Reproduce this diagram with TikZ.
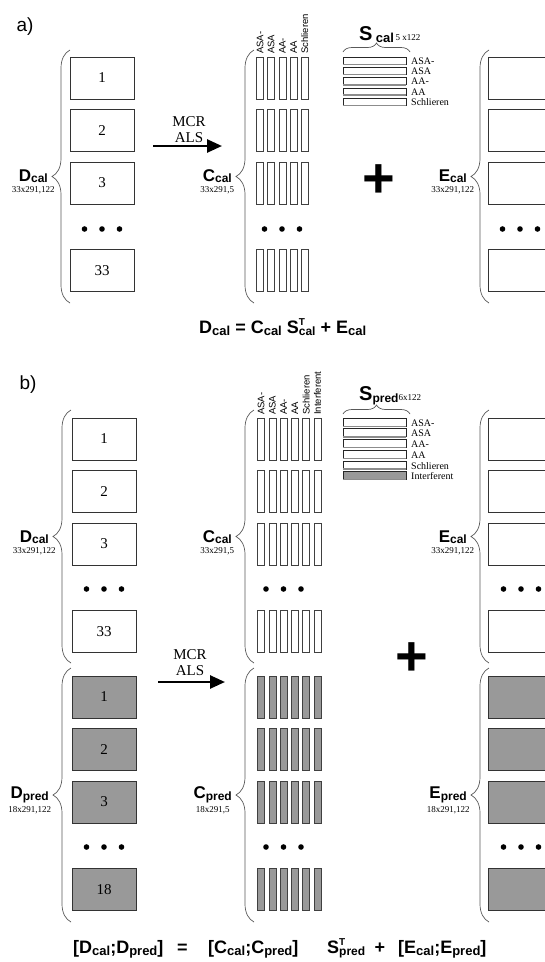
\documentclass[tikz,border=0pt]{standalone}
\usepackage{fontspec}
\setmainfont{Liberation Serif}
\newfontfamily\arialf{Liberation Sans}
\usetikzlibrary{arrows.meta,positioning,decorations.pathreplacing}

\newcommand{\msym}[2]{{\arialf\bfseries\fontsize{17}{17}\selectfont #1\raisebox{-1.5pt}{\fontsize{12}{12}\selectfont #2}}}
\newcommand{\esym}[2]{{\arialf\bfseries\fontsize{18}{18}\selectfont #1\raisebox{-2pt}{\fontsize{13}{13}\selectfont #2}}}
\newcommand{\esymT}[2]{{\arialf\bfseries\fontsize{18}{18}\selectfont #1\rlap{\raisebox{7.5pt}{\fontsize{10}{10}\selectfont T}}\raisebox{-2.5pt}{\fontsize{12}{12}\selectfont #2}}}

\tikzset{
  dbox/.style={draw=black!80,line width=0.8pt,minimum width=64pt,minimum height=42pt,inner sep=0pt,font=\fontsize{15}{15}\selectfont},
  cbar/.style={draw=black!75,line width=0.6pt,minimum width=7pt,minimum height=42pt,inner sep=0pt},
  sbar/.style={draw=black!85,line width=0.5pt,minimum width=63pt,inner sep=0pt},
  sshade/.style={draw=black!45,line width=1.4pt},
  calfill/.style={fill=white},
  predfill/.style={fill=black!40},
  lbrace/.style={decorate,decoration={brace,amplitude=18pt},draw=black!65,line width=0.7pt},
  tbrace/.style={decorate,decoration={brace,amplitude=9pt},draw=black!65,line width=0.7pt},
  grouplabel/.style={inner sep=0pt},
  dimlabel/.style={inner sep=0pt,font=\fontsize{9}{9}\selectfont},
  collabel/.style={inner sep=0pt,rotate=90,anchor=west,font=\arialf\fontsize{9.5}{9.5}\selectfont},
  rowlabel/.style={inner sep=0pt,anchor=west,font=\fontsize{10}{10}\selectfont},
  mcrtext/.style={inner sep=0pt,align=center,anchor=south,font=\fontsize{15}{16}\selectfont},
  mcrarrow/.style={line width=2.6pt,-{Triangle[length=15pt,width=13pt]}},
  plussign/.style={inner sep=0pt,font=\arialf\bfseries\fontsize{56}{56}\selectfont},
  parttitle/.style={inner sep=0pt,font=\arialf\fontsize{19}{19}\selectfont},
  eqtext/.style={inner sep=0pt,font=\arialf\bfseries\fontsize{18}{18}\selectfont}
}

\begin{document}
\begin{tikzpicture}[x=1pt,y=-1pt,>=Latex]
\clip (0,0) rectangle (545,962);

% ---------------- a) calibration ----------------
\node[parttitle] (titlea) at (25,27) {a)};

\foreach \r/\t [count=\k] in {0/1,52.5/2,105/3,192.5/33} {
  \node[dbox,calfill] (da\k) at (102,{78+\r}) {\t};
  \foreach \c in {0,...,4}
    \node[cbar,calfill] (ca\k-\c) at ({260+11.2*\c},{78+\r}) {};
  \node[dbox,calfill] (ea\k) at (520,{78+\r}) {};
}
\foreach \x in {-17.5,0,17.5} {
  \fill (102+\x,229) circle (2.8pt);
  \fill (282+\x,229) circle (2.8pt);
  \fill (520+\x,229) circle (2.8pt);
}

\foreach \c/\t in {0/ASA-,1/ASA,2/AA-,3/AA,4/Schlieren}
  \node[collabel] (cla\c) at ({260+11.2*\c},54) {\t};

% braces and labels
\draw[lbrace] (70,303) -- (70,50);
\draw[lbrace] (254,303) -- (254,50);
\draw[lbrace] (489,303) -- (489,50);
\coordinate (datip) at (52,176);
\coordinate (catip) at (236,176);
\coordinate (eatip) at (471,176);
\node[grouplabel,left=4pt of datip] (dalab) {\msym{D}{cal}};
\node[dimlabel,below=3pt of dalab] (dadim) {33x291,122};
\node[grouplabel,left=4pt of catip] (calab) {\msym{C}{cal}};
\node[dimlabel,below=3pt of calab] (cadim) {33x291,5};
\node[grouplabel,left=4pt of eatip] (ealab) {\msym{E}{cal}};
\node[dimlabel,below=3pt of ealab] (eadim) {33x291,122};

% spectra
\foreach \t [count=\i from 0] in {ASA-,ASA,AA-,AA,Schlieren} {
  \node[sbar,calfill,minimum height=7pt] (sa\i) at (374.5,{60.5+10.3*\i}) {};
  \draw[sshade] (sa\i.south west) -- (sa\i.south east);
  \node[rowlabel] (sla\i) at (411,{61+10.3*\i}) {\t};
}
\draw[tbrace] (343,52) -- (410,52);
\node[inner sep=0pt,anchor=base west] (salab) at (359,40)
  {{\arialf\bfseries\fontsize{20}{20}\selectfont S\,\raisebox{-2pt}{\fontsize{13}{13}\selectfont cal}}\,{\fontsize{9}{9}\selectfont 5 x122}};

% MCR-ALS
\coordinate (arra0) at (153,146);
\coordinate (arra1) at (222,146);
\draw[mcrarrow] (arra0) -- (arra1);
\node[mcrtext] (mcra) at (189,142.5) {MCR\\ALS};

\node[plussign] (plusa) at (379,181) {+};

\node[eqtext,anchor=base west] (eqa) at (199,333)
  {\esym{D}{cal} = \esym{C}{cal} \esymT{S}{cal} + \esym{E}{cal}};

% ---------------- b) calibration + prediction ----------------
\node[parttitle] (titleb) at (28,385) {b)};

\foreach \r/\t [count=\k] in {0/1,52.5/2,105/3,192.5/33} {
  \node[dbox,calfill] (db\k) at (104,{439+\r}) {\t};
  \foreach \c in {0,...,5}
    \node[cbar,calfill] (cb\k-\c) at ({261+11.3*\c},{439+\r}) {};
  \node[dbox,calfill] (eb\k) at (520,{439+\r}) {};
}
\foreach \r/\t [count=\k] in {0/1,52.5/2,105/3,192.5/18} {
  \node[dbox,predfill] (dp\k) at (104,{697+\r}) {\t};
  \foreach \c in {0,...,5}
    \node[cbar,predfill] (cp\k-\c) at ({261+11.3*\c},{697+\r}) {};
  \node[dbox,predfill] (ep\k) at (520,{697+\r}) {};
}
\foreach \x in {-17.5,0,17.5} {
  \fill (104+\x,589) circle (2.8pt);
  \fill (283.5+\x,589) circle (2.8pt);
  \fill (521+\x,589) circle (2.8pt);
  \fill (104+\x,847) circle (2.8pt);
  \fill (283.5+\x,847) circle (2.8pt);
  \fill (521+\x,847) circle (2.8pt);
}

\foreach \c/\t in {0/ASA-,1/ASA,2/AA-,3/AA,4/Schlieren,5/Interferent}
  \node[collabel] (clb\c) at ({261+11.3*\c},415) {\t};

% braces and labels
\draw[lbrace] (71,663) -- (71,410);
\draw[lbrace] (254,663) -- (254,410);
\draw[lbrace] (489,663) -- (489,410);
\draw[lbrace] (71,922) -- (71,668);
\draw[lbrace] (254,922) -- (254,668);
\draw[lbrace] (489,922) -- (489,668);
\coordinate (dbtip) at (53,537);
\coordinate (cbtip) at (236,537);
\coordinate (ebtip) at (471,537);
\coordinate (dptip) at (53,795);
\coordinate (cptip) at (236,795);
\coordinate (eptip) at (471,795);
\node[grouplabel,left=4pt of dbtip] (dblab) {\msym{D}{cal}};
\node[dimlabel,below=3pt of dblab] (dbdim) {33x291,122};
\node[grouplabel,left=4pt of cbtip] (cblab) {\msym{C}{cal}};
\node[dimlabel,below=3pt of cblab] (cbdim) {33x291,5};
\node[grouplabel,left=4pt of ebtip] (eblab) {\msym{E}{cal}};
\node[dimlabel,below=3pt of eblab] (ebdim) {33x291,122};
\node[grouplabel,left=4pt of dptip] (dplab) {\msym{D}{pred}};
\node[dimlabel,below=3pt of dplab] (dpdim) {18x291,122};
\node[grouplabel,left=4pt of cptip] (cplab) {\msym{C}{pred}};
\node[dimlabel,below=3pt of cplab] (cpdim) {18x291,5};
\node[grouplabel,left=4pt of eptip] (eplab) {\msym{E}{pred}};
\node[dimlabel,below=3pt of eplab] (epdim) {18x291,122};

% spectra
\foreach \t/\f [count=\i from 0] in {ASA-/calfill,ASA/calfill,AA-/calfill,AA/calfill,Schlieren/calfill,Interferent/predfill} {
  \node[sbar,\f,minimum height=8pt] (sb\i) at (374.5,{422+10.7*\i}) {};
  \draw[sshade] (sb\i.south west) -- (sb\i.south east);
  \node[rowlabel] (slb\i) at (411,{423+10.7*\i}) {\t};
}
\draw[tbrace] (343,414) -- (410,414);
\node[inner sep=0pt,anchor=base west] (sblab) at (359,400)
  {{\arialf\bfseries\fontsize{20}{20}\selectfont S\raisebox{-2pt}{\fontsize{12}{12}\selectfont pred}}{\fontsize{9}{9}\selectfont 6x122}};

% MCR-ALS
\coordinate (arrb0) at (158,682);
\coordinate (arrb1) at (225,682);
\draw[mcrarrow] (arrb0) -- (arrb1);
\node[mcrtext] (mcrb) at (190,676) {MCR\\ALS};

\node[plussign] (plusb) at (412,659) {+};

\node[eqtext,anchor=base west] (eqb1) at (73,953) {[\esym{D}{cal};\esym{D}{pred}]};
\node[eqtext,anchor=base] (eqb2) at (182.5,953) {=};
\node[eqtext,anchor=base west] (eqb3) at (208,953) {[\esym{C}{cal};\esym{C}{pred}]};
\node[eqtext,anchor=base west] (eqb4) at (327,953) {\esymT{S}{pred}};
\node[eqtext,anchor=base] (eqb5) at (380,953) {+};
\node[eqtext,anchor=base west] (eqb6) at (398,953) {[\esym{E}{cal};\esym{E}{pred}]};
\end{tikzpicture}
\end{document}
